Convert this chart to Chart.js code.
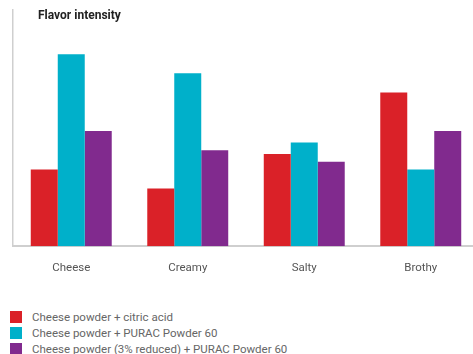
<!DOCTYPE html>
<html>
<head>
<meta charset="utf-8">
<script src="https://cdn.jsdelivr.net/npm/chart.js@4.4.0/dist/chart.umd.min.js"></script>
<style>
  html, body { margin: 0; padding: 0; background: #fff; overflow: hidden; }
  #wrap { position: relative; width: 480px; height: 290px; }
  #legend { position: absolute; left: 10px; top: 309px; font-family: Roboto, sans-serif; font-size: 11.5px; color: #666; }
  .item { display: flex; align-items: center; height: 16px; }
  .box { width: 12px; height: 12px; margin-right: 10px; }
</style>
</head>
<body>
<div id="wrap"><canvas id="chart"></canvas></div>
<div id="legend"></div>
<script>
// data
const categories = ['Cheese', 'Creamy', 'Salty', 'Brothy'];
const seriesNames = [
    'Cheese powder + citric acid',
    'Cheese powder + PURAC Powder 60',
    'Cheese powder (3% reduced) + PURAC Powder 60'
];
const citricAcid = [4, 3, 4.8, 8];
const puracPowder = [10, 9, 5.4, 4];
const reducedPurac = [6, 5, 4.4, 6];
const colors = ['#da2128', '#00b0ca', '#812a8e'];

const values = [citricAcid, puracPowder, reducedPurac];

// title drawn at the top left, over the chart area
const titlePlugin = {
    id: 'cornerTitle',
    afterDraw(chart) {
        const ctx = chart.ctx;
        ctx.save();
        ctx.font = 'bold 12px Roboto, sans-serif';
        ctx.fillStyle = '#222';
        ctx.textBaseline = 'alphabetic';
        ctx.fillText('Flavor intensity', 38, 19);
        ctx.restore();
    }
};

const ctx = document.getElementById('chart').getContext('2d');
const chart = new Chart(ctx, {
    type: 'bar',
    data: {
        labels: categories,
        datasets: seriesNames.map((name, i) => ({
            label: name,
            data: values[i],
            backgroundColor: colors[i],
            borderWidth: 0,
            categoryPercentage: 0.695,
            barPercentage: 1.0
        }))
    },
    options: {
        responsive: true,
        maintainAspectRatio: false,
        animation: false,
        layout: { padding: { left: 13, right: 1, top: 10, bottom: 0 } },
        scales: {
            x: {
                grid: { display: false, drawTicks: false },
                border: { display: true, color: '#cfcfcf', width: 2 },
                ticks: {
                    color: '#555',
                    padding: 15,
                    font: { family: 'Roboto, sans-serif', size: 11.5 }
                }
            },
            y: {
                min: 0,
                max: 12.3,
                grid: { display: false, drawTicks: false },
                border: { display: true, color: '#cfcfcf', width: 1.5 },
                ticks: { display: false }
            }
        },
        plugins: {
            legend: { display: false },
            tooltip: { enabled: false }
        }
    },
    plugins: [titlePlugin]
});

// legend below the chart
const legend = document.getElementById('legend');
seriesNames.forEach((name, i) => {
    const row = document.createElement('div');
    row.className = 'item';
    const box = document.createElement('span');
    box.className = 'box';
    box.style.background = colors[i];
    const text = document.createElement('span');
    text.textContent = name;
    row.appendChild(box);
    row.appendChild(text);
    legend.appendChild(row);
});
</script>
</body>
</html>
